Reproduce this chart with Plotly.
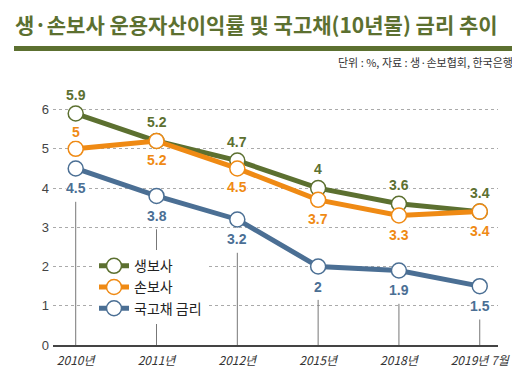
import plotly.graph_objects as go

# ---- data ----
categories = ["2010년", "2011년", "2012년", "2015년", "2018년", "2019년 7월"]
life = [5.9, 5.2, 4.7, 4.0, 3.6, 3.4]        # 생보사
nonlife = [5.0, 5.2, 4.5, 3.7, 3.3, 3.4]     # 손보사
bond = [4.5, 3.8, 3.2, 2.0, 1.9, 1.5]        # 국고채 금리
series_names = ["생보사", "손보사", "국고채 금리"]
y_ticks = [0, 1, 2, 3, 4, 5, 6]

title_text = "생·손보사 운용자산이익률 및 국고채(10년물) 금리 추이"
source_text = "단위 : %, 자료 : 생·손보협회, 한국은행"

# ---- style ----
W, H = 520, 372
ML, MR, MT, MB = 45, 30, 82, 29
PW, PH = W - ML - MR, H - MT - MB
GREEN = "#5c7030"
ORANGE = "#ef8a14"
BLUE = "#4b6f94"
KFONT = "Noto Sans CJK KR"
NFONT = "Liberation Sans"

def px_x(p):
    return (p - ML) / PW

def px_y(p):
    return (H - MB - p) / PH

xs = list(range(len(categories)))
fig = go.Figure()

for vals, name, col in [(life, series_names[0], GREEN),
                        (nonlife, series_names[1], ORANGE),
                        (bond, series_names[2], BLUE)]:
    fig.add_trace(go.Scatter(
        x=xs, y=vals, name=name, mode="lines+markers",
        line=dict(color=col, width=5),
        marker=dict(size=15, color="white", line=dict(color=col, width=1.5)),
        cliponaxis=False,
    ))

# value labels
def add_labels(vals, col, shifts):
    for x, v, s in zip(xs, vals, shifts):
        fig.add_annotation(x=x, y=v, text=f"{v:g}", showarrow=False,
                           yshift=s, font=dict(family=NFONT, size=14, color=col, weight=700),
                           bgcolor="white", borderpad=0)

add_labels(life, GREEN, [19] * 6)
add_labels(nonlife, ORANGE, [17, -19, -19, -19, -19, -19])
add_labels(bond, BLUE, [-20] * 6)

# drop lines from below lowest label to axis
for x in xs:
    lo = min(life[x], nonlife[x], bond[x])
    fig.add_shape(type="line", x0=x, x1=x, y0=0, y1=lo - 0.85,
                  line=dict(color="#777777", width=1), layer="between")

# header bar
fig.add_shape(type="rect", xref="paper", yref="paper",
              x0=px_x(6), x1=px_x(514), y0=px_y(42), y1=px_y(37),
              fillcolor=GREEN, line=dict(width=0))

fig.add_annotation(xref="paper", yref="paper", x=px_x(328), y=px_y(53),
                   xanchor="left", yanchor="middle", showarrow=False,
                   text=source_text, font=dict(family=KFONT, size=11, color="#333333"))

fig.update_layout(
    width=W, height=H,
    margin=dict(l=ML, r=MR, t=MT, b=MB),
    paper_bgcolor="white", plot_bgcolor="white",
    title=dict(text=title_text, x=7 / W, xanchor="left", xref="container",
               y=1 - 18 / H, yanchor="middle", yref="container",
               font=dict(family=KFONT, size=21, color=GREEN, weight=700)),
    showlegend=True,
    legend=dict(x=px_x(86), y=px_y(246), xanchor="left", yanchor="top",
                bgcolor="white", font=dict(family=KFONT, size=14, color="#222222"),
                itemwidth=30, tracegroupgap=0),
    xaxis=dict(range=[-0.281, 5.226], tickvals=xs, ticktext=categories,
               showgrid=False, zeroline=False, showline=True, linecolor="#444444",
               linewidth=2, ticks="", ticklabelstandoff=4,
               tickfont=dict(family=KFONT, size=12, color="#333333", style="italic")),
    yaxis=dict(range=[0, 6.5], tickvals=y_ticks, showgrid=True, gridcolor="#aaaaaa",
               griddash="dot", gridwidth=1, zeroline=False, showline=False, ticks="",
               ticklabelstandoff=3,
               tickfont=dict(family=NFONT, size=13, color="#444444")),
)

fig.write_html("out.html")
